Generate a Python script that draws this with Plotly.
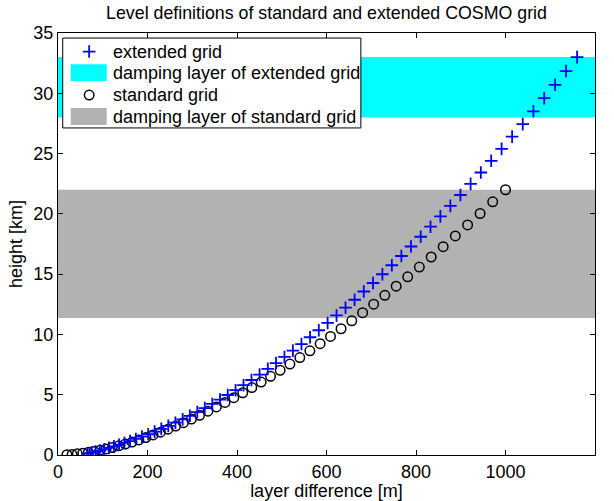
import plotly.graph_objects as go

# standard grid (COSMO 50 levels): layer thickness [m] and height of layer top [km]
std_dz = [1000, 971.43, 943.21, 915.36, 887.86, 860.71, 833.93, 807.5, 781.43, 755.71,
          730.36, 705.36, 680.71, 656.43, 632.5, 608.93, 585.71, 562.86, 540.36, 518.21,
          496.43, 475.0, 453.93, 433.21, 412.86, 392.86, 373.21, 353.93, 335.0, 316.43,
          298.21, 280.36, 262.86, 245.71, 228.93, 212.5, 196.43, 180.71, 165.36, 150.36,
          135.71, 121.43, 107.5, 93.93, 80.71, 67.86, 55.36, 43.21, 31.43, 20.0]
std_z = [22.0, 21.0, 20.0286, 19.0854, 18.17, 17.2821, 16.4214, 15.5875, 14.78, 13.9986,
         13.2429, 12.5125, 11.8071, 11.1264, 10.47, 9.8375, 9.2286, 8.6429, 8.08, 7.5396,
         7.0214, 6.525, 6.05, 5.5961, 5.1629, 4.75, 4.3571, 3.9839, 3.63, 3.295,
         2.9786, 2.6804, 2.4, 2.1371, 1.8914, 1.6625, 1.45, 1.2536, 1.0729, 0.9075,
         0.7571, 0.6214, 0.5, 0.3925, 0.2986, 0.2179, 0.15, 0.0946, 0.0514, 0.02]

# extended grid
ext_dz = [1160, 1135.3, 1110.8, 1086.5, 1062.4, 1038.5, 1014.8, 991.3, 968.0, 944.9,
          922.0, 899.3, 876.8, 854.5, 832.4, 810.5, 788.8, 767.3, 746.0, 724.9,
          704.0, 683.3, 662.8, 642.5, 622.4, 602.5, 582.8, 563.3, 544.0, 524.9,
          506.0, 487.3, 468.8, 450.5, 432.4, 414.5, 396.8, 379.3, 362.0, 344.9,
          328.0, 311.3, 294.8, 278.5, 262.4, 246.5, 230.8, 216.0, 201.5, 187.5,
          174.0, 161.0, 148.5, 136.5, 125.0, 114.0, 103.5, 93.5, 84.0, 75.0, 66.5]
ext_z = [33.0, 31.84, 30.705, 29.594, 28.507, 27.445, 26.407, 25.392, 24.4, 23.432,
         22.488, 21.566, 20.666, 19.789, 18.935, 18.103, 17.292, 16.503, 15.736, 14.99,
         14.265, 13.561, 12.878, 12.215, 11.572, 10.95, 10.348, 9.765, 9.201, 8.657,
         8.133, 7.627, 7.139, 6.67, 6.22, 5.788, 5.373, 4.976, 4.597, 4.235,
         3.89, 3.562, 3.251, 2.956, 2.677, 2.415, 2.169, 1.938, 1.722, 1.52,
         1.333, 1.159, 0.998, 0.849, 0.713, 0.588, 0.474, 0.37, 0.277, 0.193, 0.118]

# damping layers [km]
ext_damp = [28.0, 33.0]
std_damp = [11.36, 22.0]
x_range = [0, 1200]

legend_labels = ['extended grid', 'damping layer of extended grid',
                 'standard grid', 'damping layer of standard grid']

font = 'Liberation Sans, Arial, sans-serif'
cyan = '#00ffff'
grey = '#b2b2b2'
plus_marker = dict(symbol='cross-thin', size=9, color='#0000ff',
                   line=dict(width=1.8, color='#0000ff'))
circle_marker = dict(symbol='circle-open', size=9.5, color='black', line=dict(width=1.5))

fig = go.Figure()

# damping layers as bands behind the points
fig.add_shape(type='rect', xref='x', yref='y', x0=x_range[0], x1=x_range[1],
              y0=ext_damp[0], y1=ext_damp[1], fillcolor=cyan, line_width=0, layer='below')
fig.add_shape(type='rect', xref='x', yref='y', x0=x_range[0], x1=x_range[1],
              y0=std_damp[0], y1=std_damp[1], fillcolor=grey, line_width=0, layer='below')

fig.add_trace(go.Scatter(x=std_dz, y=std_z, mode='markers', name='standard grid',
                         marker=circle_marker))
fig.add_trace(go.Scatter(x=ext_dz, y=ext_z, mode='markers', name='extended grid',
                         marker=plus_marker))


# hand-made legend (MATLAB style, wide colour patches) on an overlay axis in [0, 1]
def box(x0, x1, y0, y1, fill, line):
    return go.Scatter(x=[x0, x1, x1, x0, x0], y=[y0, y0, y1, y1, y0],
                      xaxis='x2', yaxis='y2', mode='lines', fill='toself',
                      fillcolor=fill, line=line, hoverinfo='skip')


row_y = [0.956, 0.906, 0.853, 0.802]
sym_x = 0.058
fig.add_trace(box(0.0088, 0.564, 0.775, 0.988, 'white', dict(color='black', width=1)))
fig.add_trace(box(0.0237, 0.0907, row_y[1] - 0.02, row_y[1] + 0.02, cyan, dict(width=0)))
fig.add_trace(box(0.0237, 0.0907, row_y[3] - 0.02, row_y[3] + 0.02, grey, dict(width=0)))
fig.add_trace(go.Scatter(x=[sym_x], y=[row_y[0]], xaxis='x2', yaxis='y2', mode='markers',
                         marker=plus_marker, hoverinfo='skip'))
fig.add_trace(go.Scatter(x=[sym_x], y=[row_y[2]], xaxis='x2', yaxis='y2', mode='markers',
                         marker=circle_marker, hoverinfo='skip'))
for label, yy in zip(legend_labels, row_y):
    fig.add_annotation(text=label, xref='paper', yref='paper', x=0.0982, y=yy,
                       xanchor='left', yanchor='middle', showarrow=False,
                       font=dict(size=18, color='black'))

axis = dict(showline=True, linecolor='black', linewidth=1, mirror='ticks',
            ticks='inside', ticklen=5, tickcolor='black', showgrid=False,
            zeroline=False, automargin=False, tickfont=dict(size=18, color='black'))

fig.update_layout(
    width=614, height=501,
    margin=dict(l=58, r=19, t=33, b=46),
    paper_bgcolor='white', plot_bgcolor='white',
    font=dict(family=font, size=18, color='black'),
    showlegend=False,
    title=dict(text='Level definitions of standard and extended COSMO grid',
               x=0.5, xref='paper', xanchor='center', yref='container', y=0.975,
               yanchor='middle', font=dict(size=17.8)),
    xaxis=dict(range=x_range, dtick=200,
               title=dict(text='layer difference [m]', standoff=0, font=dict(size=18)),
               **axis),
    yaxis=dict(range=[0, 35], dtick=5,
               title=dict(text='height [km]', standoff=6, font=dict(size=18)),
               **axis),
    xaxis2=dict(range=[0, 1], overlaying='x', visible=False),
    yaxis2=dict(range=[0, 1], overlaying='y', visible=False),
)

# the page's default 8px body margin would shift the whole figure
fig.write_html("out.html", config={'displayModeBar': False},
               post_script="document.body.style.margin = '0';")
